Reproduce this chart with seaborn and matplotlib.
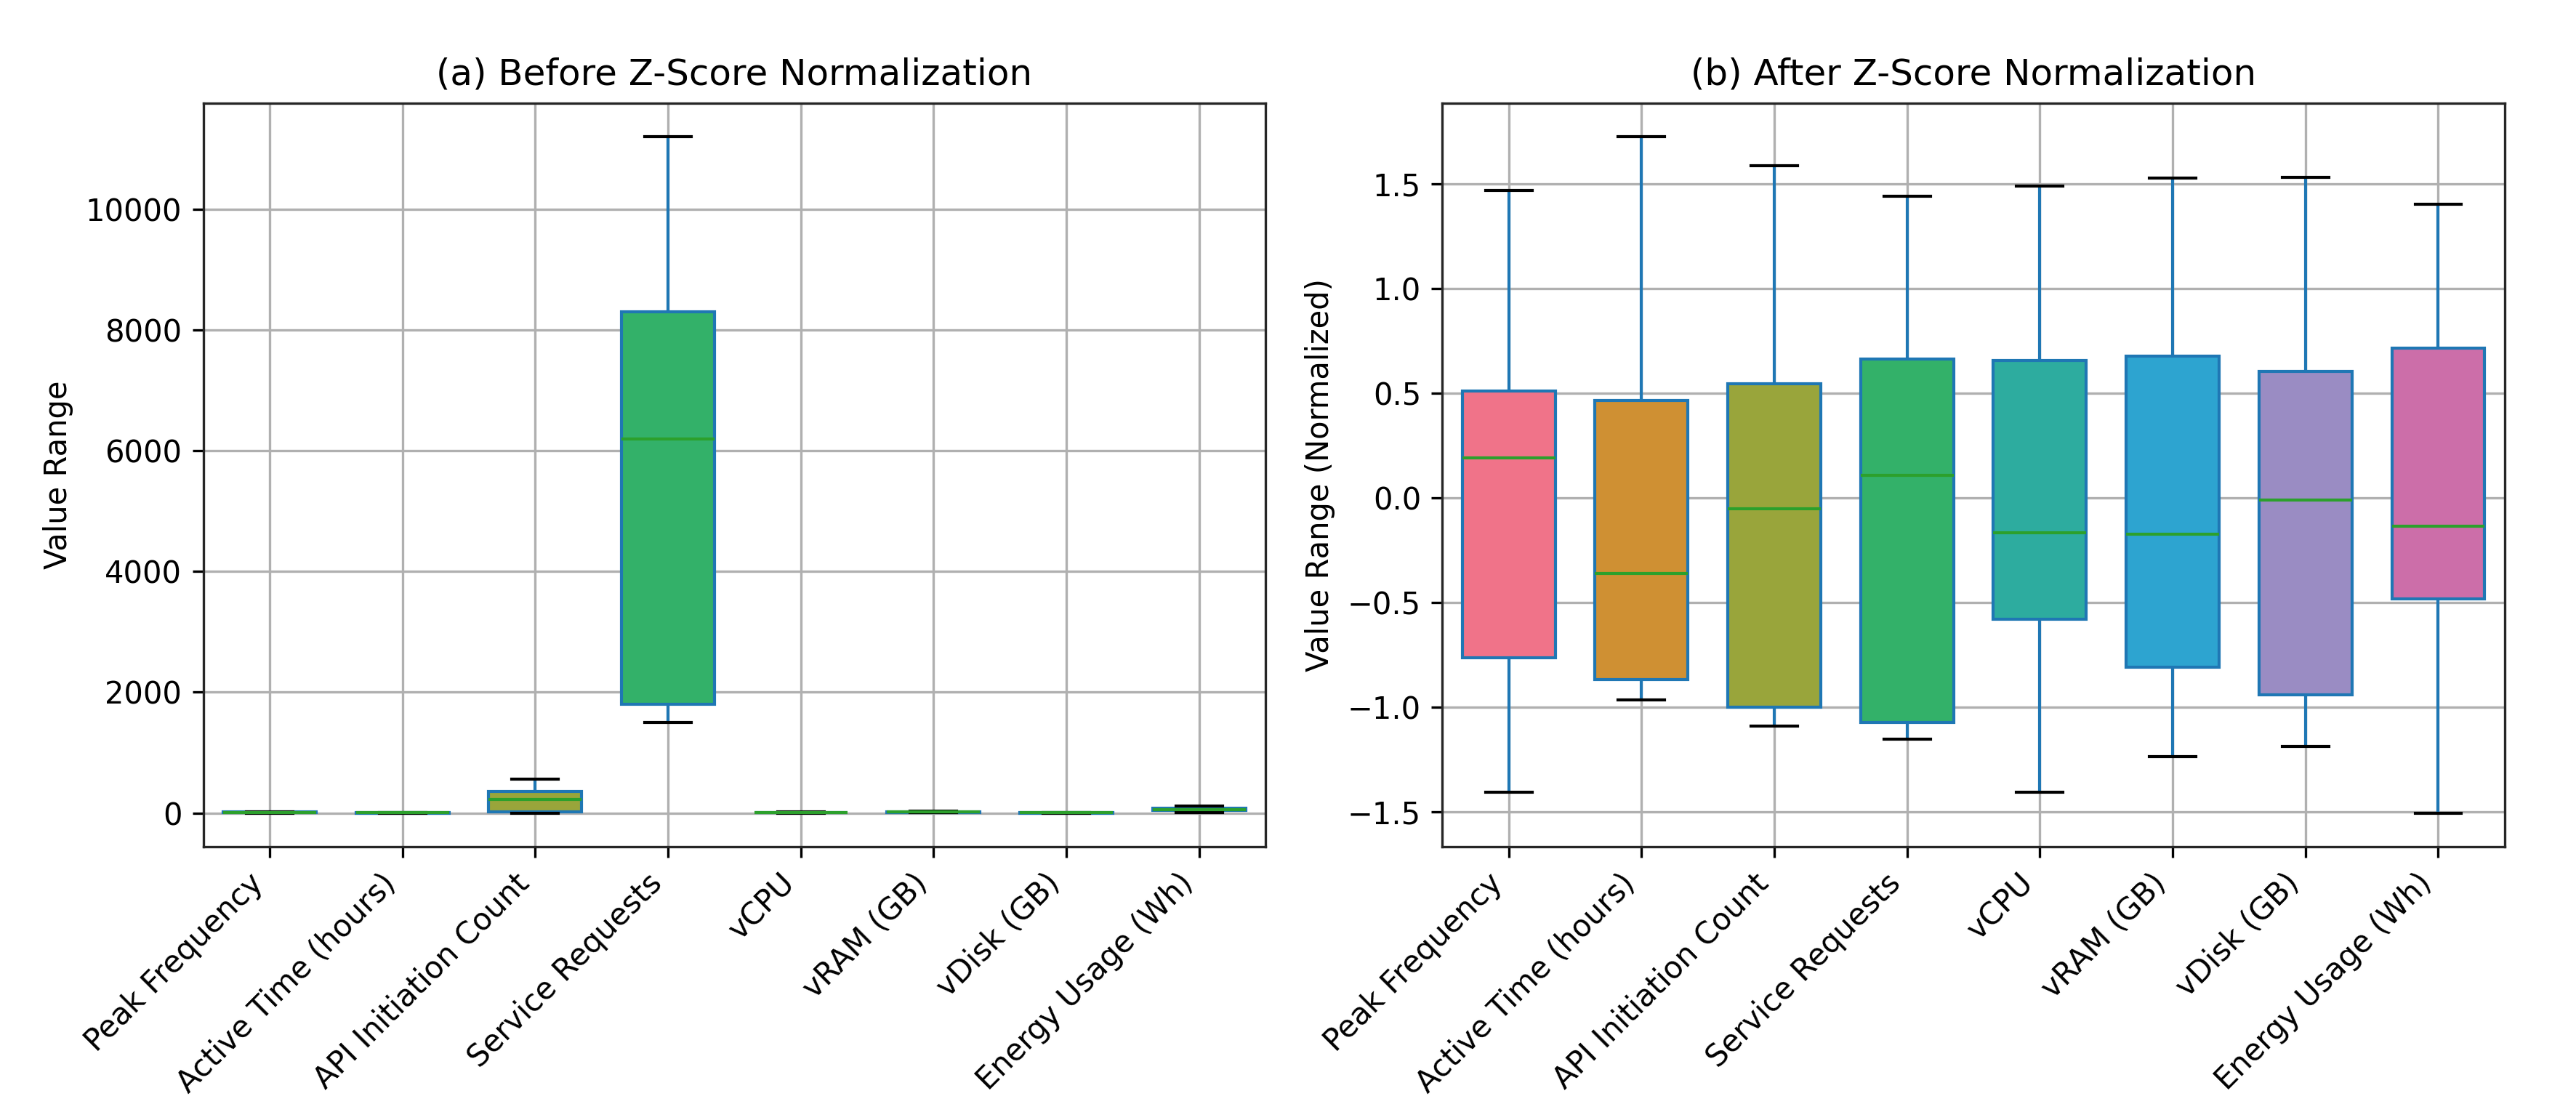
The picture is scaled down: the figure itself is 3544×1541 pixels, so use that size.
import matplotlib
matplotlib.use("Agg")
import matplotlib.pyplot as plt
import seaborn as sns
import pandas as pd

# feature names (x tick labels)
features = ["Peak Frequency", "Active Time (hours)", "API Initiation Count",
            "Service Requests", "vCPU", "vRAM (GB)", "vDisk (GB)", "Energy Usage (Wh)"]

# five-number summaries: [low whisker, Q1, median, Q3, high whisker]
raw_peak = [1, 5, 11.5, 13.5, 20]
raw_active = [0.1, 0.3, 1.5, 3.4, 6.3]
raw_api = [0, 17, 225, 358, 565]
raw_service = [1500, 1800, 6200, 8300, 11200]
raw_vcpu = [1, 5, 7, 11, 15.5]
raw_vram = [5.5, 10, 16, 25, 33]
raw_vdisk = [0.2, 0.5, 1.2, 2.0, 3.0]
raw_energy = [5, 42, 54, 85, 110]

z_peak = [-1.404, -0.765, 0.192, 0.510, 1.468]
z_active = [-0.964, -0.868, -0.359, 0.465, 1.725]
z_api = [-1.088, -1.000, -0.051, 0.545, 1.588]
z_service = [-1.151, -1.071, 0.107, 0.665, 1.443]
z_vcpu = [-1.407, -0.578, -0.165, 0.658, 1.492]
z_vram = [-1.234, -0.807, -0.173, 0.679, 1.529]
z_vdisk = [-1.186, -0.941, -0.011, 0.605, 1.532]
z_energy = [-1.505, -0.482, -0.136, 0.717, 1.404]

raw_values = [raw_peak, raw_active, raw_api, raw_service, raw_vcpu, raw_vram, raw_vdisk, raw_energy]
z_values = [z_peak, z_active, z_api, z_service, z_vcpu, z_vram, z_vdisk, z_energy]

box_colors = ['#f07389', '#cf9033', '#99a53b', '#33b169', '#2dac9f', '#2da4d0', '#9a8cc3', '#cc6ea9']


def long_table(values):
    rows = []
    for name, vals in zip(features, values):
        for v in vals:
            rows.append({"Feature": name, "Value": v})
    return pd.DataFrame(rows)


df_raw = long_table(raw_values)
df_z = long_table(z_values)

plt.rcParams['font.family'] = ['DejaVu Sans']
plt.rcParams['font.size'] = 10

fig, axes = plt.subplots(1, 2, figsize=(3544 / 300, 1541 / 300), dpi=300)

for ax, df, title, ylab in [(axes[0], df_raw, "(a) Before Z-Score Normalization", "Value Range"),
                            (axes[1], df_z, "(b) After Z-Score Normalization", "Value Range (Normalized)")]:
    sns.boxplot(data=df, x="Feature", y="Value", hue="Feature", palette=box_colors,
                saturation=1, width=0.7, whis=(0, 100), legend=False, ax=ax,
                linewidth=1.0,
                boxprops=dict(edgecolor='#1f77b4', linewidth=1.0),
                whiskerprops=dict(color='#1f77b4', linewidth=1.0),
                capprops=dict(color='black', linewidth=1.0),
                medianprops=dict(color='#2ca02c', linewidth=1.0))
    ax.set_axisbelow(True)
    ax.grid(True, color='#b0b0b0', linewidth=0.8)
    ax.set_title(title, fontsize=12)
    ax.set_xlabel("")
    ax.set_ylabel(ylab, fontsize=10)
    ax.set_xticks(range(len(features)))
    ax.set_xticklabels(features, rotation=45, ha='right')
    ax.tick_params(labelsize=10)
    for s in ax.spines.values():
        s.set_color('#262626')

plt.tight_layout(rect=(0.004, -0.01, 0.985, 0.978), w_pad=1.3)
plt.savefig("out.png", dpi=300)
